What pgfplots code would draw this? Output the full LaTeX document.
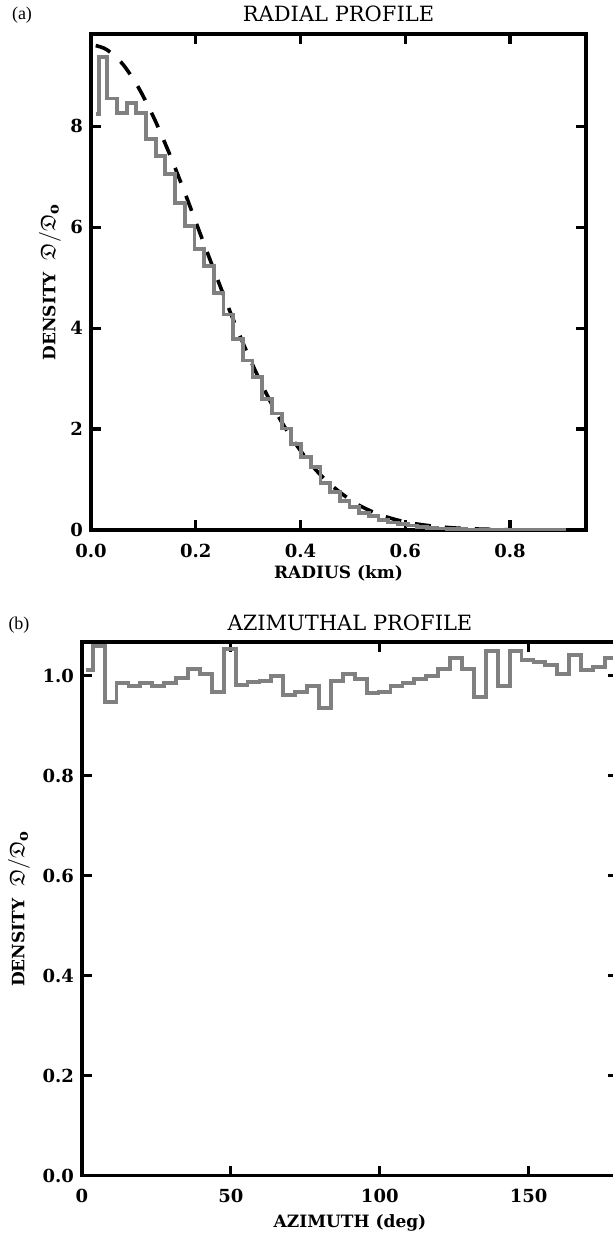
\documentclass[border=0pt]{standalone}
\usepackage{fontspec}
\setmainfont{DejaVu Serif}
\newfontfamily\timesfont{Liberation Serif}
\usepackage{amssymb}
\usepackage{pgfplots}
\pgfplotsset{compat=1.18}
\newcommand{\densitylabel}{DENSITY\ \ {\fontsize{10.5}{11}\selectfont$\mathfrak{D}/\mathfrak{D}_{\mathbf{o}}$}}
\begin{document}
\begin{tikzpicture}
\useasboundingbox (0,0) rectangle (306.5pt,-618pt);
\pgfplotsset{
  idl/.style={
    scale only axis,
    tick align=inside,
    major tick length=5pt,
    every tick/.style={black, line width=1.6pt},
    axis line style={line width=1.8pt},
    ticklabel style={font=\fontsize{9}{10}\selectfont\bfseries},
    xticklabel style={yshift=-3.5pt},
    yticklabel style={xshift=-0.5pt},
    title style={font=\fontsize{10.5}{12}\selectfont, anchor=center},
    xlabel style={font=\fontsize{8.5}{10}\selectfont\bfseries, anchor=center},
    ylabel style={font=\fontsize{8.5}{10}\selectfont\bfseries, anchor=center, rotate=0},
    clip=true,
  }
}
% ---------------- (a) radial profile
\begin{axis}[idl,
  at={(45.5pt,-265pt)}, anchor=south west,
  width=247.5pt, height=248pt,
  xmin=0, xmax=0.945, ymin=0, ymax=9.83,
  xtick={0,0.2,0.4,0.6,0.8}, xticklabels={0.0,0.2,0.4,0.6,0.8},
  ytick={0,2,4,6,8}, yticklabels={0,2,4,6,8},
  title={RADIAL PROFILE},
  title style={at={(axis description cs:0.5,1)}, yshift=4pt},
  xlabel={RADIUS (km)},
  xlabel style={at={(axis description cs:0.5,-0.0867)}},
  ylabel={\densitylabel},
  ylabel style={at={(axis description cs:-0.083,0.5)}},
]
\addplot[black, line width=1.8pt, dash pattern=on 8pt off 7pt, smooth] coordinates {
(0.009,9.60) (0.03,9.52) (0.06,9.24) (0.09,8.78) (0.12,8.17) (0.15,7.45)
(0.18,6.66) (0.21,5.83) (0.24,5.01) (0.27,4.21) (0.30,3.47) (0.33,2.80)
(0.36,2.21) (0.39,1.72) (0.42,1.30) (0.45,0.97) (0.48,0.71) (0.51,0.50)
(0.54,0.35) (0.57,0.24) (0.60,0.16) (0.63,0.107) (0.66,0.069) (0.69,0.043)
(0.72,0.027) (0.75,0.016) (0.80,0.007)
};
\addplot[const plot, color={rgb,255:red,128;green,128;blue,128}, line width=1.9pt] coordinates {
(0.0097,8.25) (0.0150,9.37) (0.0310,8.55) (0.0495,8.26) (0.0680,8.47) (0.0865,8.26)
(0.1050,7.75) (0.1235,7.42) (0.1420,7.06) (0.1605,6.48) (0.1790,6.02) (0.1975,5.57)
(0.2160,5.23) (0.2345,4.70) (0.2530,4.27) (0.2715,3.79) (0.2900,3.36) (0.3085,3.03)
(0.3270,2.60) (0.3455,2.31) (0.3640,2.01) (0.3825,1.71) (0.4010,1.45) (0.4195,1.25)
(0.4380,0.93) (0.4565,0.75) (0.4750,0.58) (0.4935,0.45) (0.5120,0.34) (0.5305,0.27)
(0.5490,0.20) (0.5675,0.15) (0.5860,0.12) (0.6045,0.09) (0.6230,0.06) (0.6415,0.045)
(0.6600,0.03) (0.6785,0.02) (0.6970,0.015) (0.7155,0.01) (0.7340,0.008) (0.7525,0.005)
(0.7710,0.004) (0.7895,0.003) (0.8080,0.002) (0.8265,0.002) (0.8450,0.001) (0.8635,0.001)
(0.8820,0.001) (0.9070,0.001)
};
\end{axis}
% ---------------- (b) azimuthal profile
\begin{axis}[idl,
  at={(41pt,-587.75pt)}, anchor=south west,
  width=268pt, height=266.9pt,
  xmin=0, xmax=180, ymin=0, ymax=1.068,
  xtick={0,50,100,150}, xticklabels={0,50,100,150},
  ytick={0,0.2,0.4,0.6,0.8,1.0}, yticklabels={0.0,0.2,0.4,0.6,0.8,1.0},
  title={AZIMUTHAL PROFILE},
  title style={at={(axis description cs:0.5,1)}, yshift=3.5pt},
  xlabel={AZIMUTH (deg)},
  xlabel style={at={(axis description cs:0.5,-0.089)}},
  ylabel={\densitylabel},
  ylabel style={at={(axis description cs:-0.1175,0.5)}},
]
\addplot[const plot, color={rgb,255:red,128;green,128;blue,128}, line width=1.9pt] coordinates {
(1.2,1.011) (3.6,1.060) (7.6,0.947) (11.6,0.986) (15.6,0.979) (19.6,0.985)
(23.6,0.979) (27.6,0.986) (31.6,0.996) (35.6,1.014) (39.6,1.004) (43.6,0.968)
(47.6,1.053) (51.6,0.982) (55.6,0.987) (59.6,0.989) (63.6,1.000) (67.6,0.961)
(71.6,0.968) (75.6,0.979) (79.6,0.935) (83.6,0.989) (87.6,1.004) (91.6,0.993)
(95.6,0.965) (99.6,0.968) (103.6,0.979) (107.6,0.986) (111.6,0.993) (115.6,1.000)
(119.6,1.014) (123.6,1.035) (127.6,1.014) (131.6,0.958) (135.6,1.049) (139.6,0.979)
(143.6,1.049) (147.6,1.032) (151.6,1.028) (155.6,1.021) (159.6,1.004) (163.6,1.042)
(167.6,1.011) (171.6,1.018) (175.6,1.035) (179.5,1.035)
};
\end{axis}
\node[font=\timesfont\fontsize{9}{10}\selectfont] at (11pt,-7.5pt) {(a)};
\node[font=\timesfont\fontsize{9}{10}\selectfont] at (9.5pt,-312.5pt) {(b)};
\end{tikzpicture}
\end{document}
